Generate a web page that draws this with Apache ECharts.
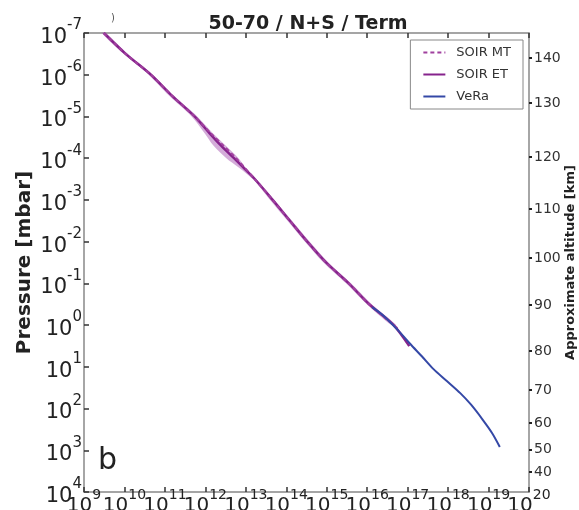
<!DOCTYPE html>
<html>
<head>
<meta charset="utf-8">
<script src="https://cdn.jsdelivr.net/npm/echarts@6/dist/echarts.min.js"></script>
<style>
html,body{margin:0;padding:0;background:#fff;}
#chart{width:579px;height:510px;}
</style>
</head>
<body>
<div id="chart"></div>
<script>
// ---- data ----
// pressure levels (mbar) for SOIR profiles
var soirP = [1e-7, 3.16e-7, 1e-6, 3.16e-6, 1e-5, 2.5e-5, 5e-5, 1e-4, 1.6e-4, 3.16e-4, 1e-3, 3.16e-3, 1e-2, 3.16e-2, 0.1, 0.316, 1.0];
// SOIR ET number density (cm^-3)
var soirET = [3.1e9, 1.07e10, 4.5e10, 1.48e11, 5.4e11, 1.26e12, 2.45e12, 5.1e12, 8.3e12, 1.66e13, 4.6e13, 1.23e14, 3.3e14, 9.6e14, 3.5e15, 1.12e16, 4.5e16];
var soirETtailP = [3.2];
var soirETtailN = [1.1e17];
// SOIR MT number density
var soirMT = [3.1e9, 1.07e10, 4.5e10, 1.48e11, 5.4e11, 1.35e12, 2.8e12, 5.75e12, 8.9e12, 1.66e13, 4.6e13, 1.23e14, 3.3e14, 9.6e14, 3.5e15, 1.12e16, 4.5e16];
var soirMTtailP = [1.25];
var soirMTtailN = [5.9e16];
// SOIR variability band (low / high number density)
var bandLow  = [2.75e9, 9.5e9, 3.98e10, 1.26e11, 4.57e11, 9.5e11, 1.58e12, 3.3e12, 6.3e12, 1.48e13, 3.98e13, 1.07e14, 2.9e14, 8.3e14, 3.0e15, 9.8e15, 3.98e16];
var bandHigh = [3.47e9, 1.2e10, 5.0e10, 1.66e11, 6.3e11, 1.51e12, 3.16e12, 6.6e12, 9.5e12, 1.82e13, 5.1e13, 1.38e14, 3.8e14, 1.1e15, 4.0e15, 1.29e16, 5.25e16];
// VeRa profile
var veraP = [0.37, 0.58, 1.32, 2.8, 5.75, 11.2, 21.9, 42.7, 81, 186, 389, 832];
var veraN = [1.32e16, 2.45e16, 5.75e16, 1.15e17, 2.3e17, 4.3e17, 9.3e17, 2.0e18, 3.7e18, 7.2e18, 1.23e19, 1.9e19];
// right axis: approximate altitude ticks (km) and their log10 pressure positions
var altKm = [140, 130, 120, 110, 100, 90, 80, 70, 60, 50, 40];
var altLogP = [-6.40, -5.32, -4.03, -2.78, -1.61, -0.48, 0.62, 1.555, 2.35, 2.99, 3.52];
var legendNames = ['SOIR MT', 'SOIR ET', 'VeRa'];

// ---- build ----
function pairs(xs, ys) { var o = []; for (var i = 0; i < xs.length; i++) o.push([xs[i], ys[i]]); return o; }
var etData = pairs(soirET.concat(soirETtailN), soirP.concat(soirETtailP));
var mtData = pairs(soirMT.concat(soirMTtailN), soirP.concat(soirMTtailP));
var veraData = pairs(veraN, veraP);
var bandData = pairs(bandLow, soirP).concat(pairs(bandHigh, soirP));

var purple = '#86238c';
var blue = '#3448a6';

function expOf(v) { return Math.round(Math.log(v) / Math.LN10); }
function expLabel(v) { return '{b|10}{s|' + expOf(v) + '}'; }
function oddLabel(v) { var e = expOf(v); return (Math.abs(e) % 2 === 1) ? expLabel(v) : ''; }
function evenLabel(v) { var e = expOf(v); return (Math.abs(e) % 2 === 0) ? expLabel(v) : ''; }

var richY = {
  b: { fontSize: 21, lineHeight: 30, verticalAlign: 'bottom', color: '#222', fontFamily: 'DejaVu Sans' },
  s: { fontSize: 15, lineHeight: 15, verticalAlign: 'top', color: '#222', fontFamily: 'DejaVu Sans' }
};
var richX = {
  b: { fontSize: 20, lineHeight: 28, verticalAlign: 'bottom', color: '#222', fontFamily: 'DejaVu Sans' },
  s: { fontSize: 14, lineHeight: 14, verticalAlign: 'top', color: '#222', fontFamily: 'DejaVu Sans' }
};
var gray = '#888';

function bottomAxis(fmt, showLine) {
  return {
    type: 'log', logBase: 10, min: 1e9, max: 1e20, interval: 1, position: 'bottom', gridIndex: 0,
    axisLine: { show: showLine, onZero: false, lineStyle: { color: gray, width: 1.5 } },
    axisTick: { show: showLine, inside: true, length: 5, lineStyle: { color: '#333', width: 1.5 } },
    axisLabel: { show: true, margin: -4, interval: 0, hideOverlap: false, formatter: fmt, rich: richX, verticalAlign: 'top' },
    splitLine: { show: false }, minorTick: { show: false }
  };
}

var chart = echarts.init(document.getElementById('chart'), null, { renderer: 'canvas' });
var option = {
  animation: false,
  backgroundColor: '#fff',
  textStyle: { fontFamily: 'DejaVu Sans' },
  grid: { left: 84, right: 50, top: 33, bottom: 18, containLabel: false, outerBoundsMode: 'none' },
  title: {
    text: '50-70 / N+S / Term',
    left: 303, top: 10, textAlign: 'center',
    textStyle: { fontSize: 19, fontWeight: 'bold', color: '#222', fontFamily: 'DejaVu Sans' }
  },
  legend: {
    data: legendNames,
    orient: 'vertical',
    right: 56, top: 40,
    itemWidth: 22, itemHeight: 10, itemGap: 9,
    padding: [6, 12, 6, 12],
    borderColor: gray, borderWidth: 1, borderRadius: 0,
    backgroundColor: '#fff',
    itemStyle: { color: 'rgba(0,0,0,0)', borderWidth: 0, opacity: 0 },
    textStyle: { fontSize: 13, color: '#333', padding: [0, 0, 0, 6], fontFamily: 'DejaVu Sans' }
  },
  xAxis: [
    bottomAxis(oddLabel, true),
    {
      type: 'log', logBase: 10, min: 1e9, max: 1e20, interval: 1, position: 'top',
      axisLine: { show: true, onZero: false, lineStyle: { color: gray, width: 1.5 } },
      axisTick: { show: true, inside: true, length: 5, lineStyle: { color: '#333', width: 1.5 } },
      axisLabel: { show: false },
      splitLine: { show: false }
    },
    bottomAxis(evenLabel, false)
  ],
  yAxis: [
    {
      type: 'log', logBase: 10, min: 1e-7, max: 1e4, interval: 1, inverse: true, position: 'left',
      name: 'Pressure [mbar]', nameLocation: 'middle', nameGap: 49, nameRotate: 90, nameMoveOverlap: false,
      nameTextStyle: { fontSize: 20, fontWeight: 'bold', color: '#222', fontFamily: 'DejaVu Sans' },
      axisLine: { show: true, onZero: false, lineStyle: { color: gray, width: 1.5 } },
      axisTick: { show: true, inside: true, length: 5, lineStyle: { color: '#333', width: 1.5 } },
      axisLabel: { show: true, margin: 2, interval: 0, hideOverlap: false, showMinLabel: true, showMaxLabel: true, formatter: expLabel, rich: richY },
      splitLine: { show: false }
    },
    {
      type: 'value', min: -7, max: 4, inverse: true, position: 'right',
      name: 'Approximate altitude [km]', nameLocation: 'middle', nameGap: 35, nameRotate: 90, nameMoveOverlap: false,
      nameTextStyle: { fontSize: 13, fontWeight: 'bold', color: '#222', fontFamily: 'DejaVu Sans' },
      axisLine: { show: true, onZero: false, lineStyle: { color: gray, width: 1.5 } },
      axisTick: { show: true, inside: false, length: 3, customValues: altLogP, lineStyle: { color: '#222', width: 2 } },
      axisLabel: {
        show: true, margin: 5, customValues: altLogP, fontSize: 14, color: '#333', fontFamily: 'DejaVu Sans',
        formatter: function (v) {
          for (var i = 0; i < altLogP.length; i++) if (Math.abs(altLogP[i] - v) < 1e-6) return String(altKm[i]);
          return '';
        }
      },
      splitLine: { show: false }
    }
  ],
  graphic: [
    { type: 'text', left: 98, top: 446, style: { text: 'b', fontSize: 30, fill: '#222', fontFamily: 'DejaVu Sans' } },
    { type: 'text', left: 111, top: 13, style: { text: ')', fontSize: 10, fill: '#555', fontFamily: 'DejaVu Sans' } }
  ],
  series: [
    {
      type: 'custom', name: 'band', xAxisIndex: 0, yAxisIndex: 0, silent: true, z: 1,
      data: bandData,
      renderItem: function (params, api) {
        if (params.dataIndex !== 0) return null;
        var pts = [];
        for (var i = 0; i < bandLow.length; i++) pts.push(api.coord([bandLow[i], soirP[i]]));
        for (var j = bandHigh.length - 1; j >= 0; j--) pts.push(api.coord([bandHigh[j], soirP[j]]));
        return {
          type: 'polygon', shape: { points: pts, smooth: 0.3 },
          style: { fill: 'rgba(160,70,170,0.45)', stroke: 'none' }
        };
      },
      encode: { x: 0, y: 1 }
    },
    {
      type: 'line', name: 'SOIR MT', xAxisIndex: 0, yAxisIndex: 0, data: mtData,
      showSymbol: false, symbol: 'none', smooth: 0.3, z: 3,
      lineStyle: { color: '#a0409e', width: 2, type: [4, 3] }, itemStyle: { color: '#a0409e' }
    },
    {
      type: 'line', name: 'SOIR ET', xAxisIndex: 0, yAxisIndex: 0, data: etData,
      showSymbol: false, symbol: 'none', smooth: 0.3, z: 2,
      lineStyle: { color: purple, width: 2.5 }, itemStyle: { color: purple }
    },
    {
      type: 'line', name: 'VeRa', xAxisIndex: 0, yAxisIndex: 0, data: veraData,
      showSymbol: false, symbol: 'none', smooth: 0.3, z: 4,
      lineStyle: { color: blue, width: 2 }, itemStyle: { color: blue }
    }
  ]
};
chart.setOption(option);
</script>
</body>
</html>
